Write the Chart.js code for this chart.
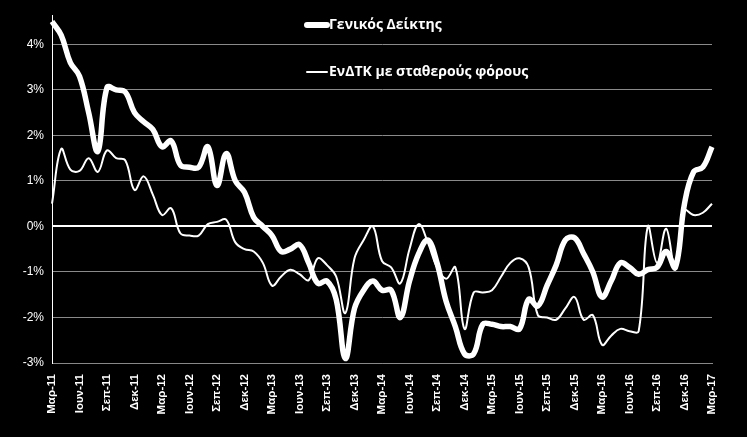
<!DOCTYPE html>
<html>
<head>
<meta charset="utf-8">
<script src="https://cdn.jsdelivr.net/npm/chart.js@4"></script>
<style>
  html, body { margin: 0; padding: 0; background: #000; }
  #wrap { width: 747px; height: 437px; }
</style>
</head>
<body>
<div id="wrap"><canvas id="c"></canvas></div>
<script>
const monthNames = ['Μαρ', 'Απρ', 'Μαϊ', 'Ιουν', 'Ιουλ', 'Αυγ', 'Σεπ', 'Οκτ', 'Νοε', 'Δεκ', 'Ιαν', 'Φεβ'];
const labels = [];
for (let i = 0; i < 73; i++) {
    const m = i % 12;
    const year = 11 + Math.floor((i + 2) / 12);
    labels.push(monthNames[m] + '-' + year);
}

// Γενικός Δείκτης (ετήσια μεταβολή %)
const genikos = [4.5, 4.2, 3.6, 3.3, 2.5, 1.65, 3.05, 3.0, 2.95, 2.5, 2.3, 2.13, 1.75, 1.88, 1.35, 1.3, 1.3, 1.75,
    0.9, 1.6, 1.0, 0.75, 0.2, 0.0, -0.2, -0.55, -0.5, -0.4, -0.8, -1.25, -1.2, -1.6, -2.9, -1.8, -1.4, -1.2, -1.4,
    -1.4, -2.0, -1.2, -0.6, -0.3, -0.8, -1.65, -2.2, -2.8, -2.8, -2.15, -2.15, -2.2, -2.2, -2.25, -1.6, -1.75,
    -1.3, -0.85, -0.3, -0.25, -0.6, -1.0, -1.55, -1.2, -0.8, -0.9, -1.05, -0.95, -0.9, -0.55, -0.9, 0.5, 1.2, 1.3, 1.75];

// ΕνΔΤΚ με σταθερούς φόρους
const enDTK = [0.5, 1.7, 1.25, 1.22, 1.5, 1.2, 1.67, 1.5, 1.45, 0.8, 1.1, 0.7, 0.25, 0.4, -0.15, -0.2, -0.2, 0.05,
    0.1, 0.15, -0.35, -0.5, -0.55, -0.8, -1.3, -1.1, -0.95, -1.05, -1.18, -0.7, -0.85, -1.1, -1.9, -0.7, -0.3, 0.0,
    -0.76, -0.9, -1.25, -0.5, 0.05, -0.35, -0.9, -1.15, -0.9, -2.25, -1.45, -1.45, -1.4, -1.1, -0.8, -0.7, -0.9,
    -1.95, -2.0, -2.05, -1.8, -1.55, -2.05, -1.95, -2.6, -2.4, -2.25, -2.3, -2.3, 0.0, -0.8, -0.05, -0.95, 0.35,
    0.25, 0.3, 0.5];

const yTicks = [-3, -2, -1, 0, 1, 2, 3, 4];

const legendItems = [
    { text: 'Γενικός Δείκτης', width: 6, y: 25 },
    { text: 'ΕνΔΤΚ με σταθερούς φόρους', width: 2, y: 72 }
];

// legend drawn inside the plot, stacked
const legendPlugin = {
    id: 'innerLegend',
    afterDraw(chart) {
        const ctx = chart.ctx;
        ctx.save();
        legendItems.forEach(item => {
            ctx.strokeStyle = '#fff';
            ctx.lineWidth = item.width;
            ctx.lineCap = 'round';
            ctx.beginPath();
            ctx.moveTo(307, item.y);
            ctx.lineTo(327, item.y);
            ctx.stroke();
            ctx.fillStyle = '#fff';
            ctx.font = 'bold 14px "Open Sans", sans-serif';
            ctx.textBaseline = 'middle';
            ctx.fillText(item.text, 329, item.y);
        });
        ctx.restore();
    }
};

new Chart(document.getElementById('c'), {
    type: 'line',
    data: {
        labels: labels,
        datasets: [
            {
                label: 'Γενικός Δείκτης',
                data: genikos,
                borderColor: '#fff',
                borderWidth: 5.5,
                pointRadius: 0,
                tension: 0.4,
                fill: false
            },
            {
                label: 'ΕνΔΤΚ με σταθερούς φόρους',
                data: enDTK,
                borderColor: '#fff',
                borderWidth: 2,
                pointRadius: 0,
                tension: 0.4,
                fill: false
            }
        ]
    },
    plugins: [legendPlugin],
    options: {
        responsive: true,
        maintainAspectRatio: false,
        animation: false,
        plugins: {
            legend: { display: false },
            tooltip: { enabled: false }
        },
        layout: { padding: { top: 2, right: 35, left: 4, bottom: 0 } },
        scales: {
            x: {
                grid: { display: false },
                border: { color: '#888', width: 1 },
                ticks: {
                    autoSkip: false,
                    maxRotation: 90,
                    minRotation: 90,
                    color: '#fff',
                    font: { size: 11.5, weight: 'bold', family: 'Arial, "Liberation Sans", sans-serif' },
                    callback: function (value, index) {
                        return index % 3 === 0 ? labels[index] : '';
                    }
                },
                afterFit: s => { s.height = 74; }
            },
            y: {
                min: -3,
                max: 4.64,
                afterBuildTicks: s => { s.ticks = yTicks.map(v => ({ value: v })); },
                afterFit: s => { s.width = 48; },
                border: { color: '#fff', width: 1 },
                grid: {
                    color: ctx => ctx.tick && ctx.tick.value === 0 ? '#fff' : '#8a8a8a',
                    lineWidth: ctx => ctx.tick && ctx.tick.value === 0 ? 2 : 1,
                    drawTicks: false
                },
                ticks: {
                    color: '#fff',
                    padding: 8,
                    font: { size: 12, family: 'Arial, "Liberation Sans", sans-serif' },
                    callback: v => v + '%'
                }
            }
        }
    }
});
</script>
</body>
</html>
